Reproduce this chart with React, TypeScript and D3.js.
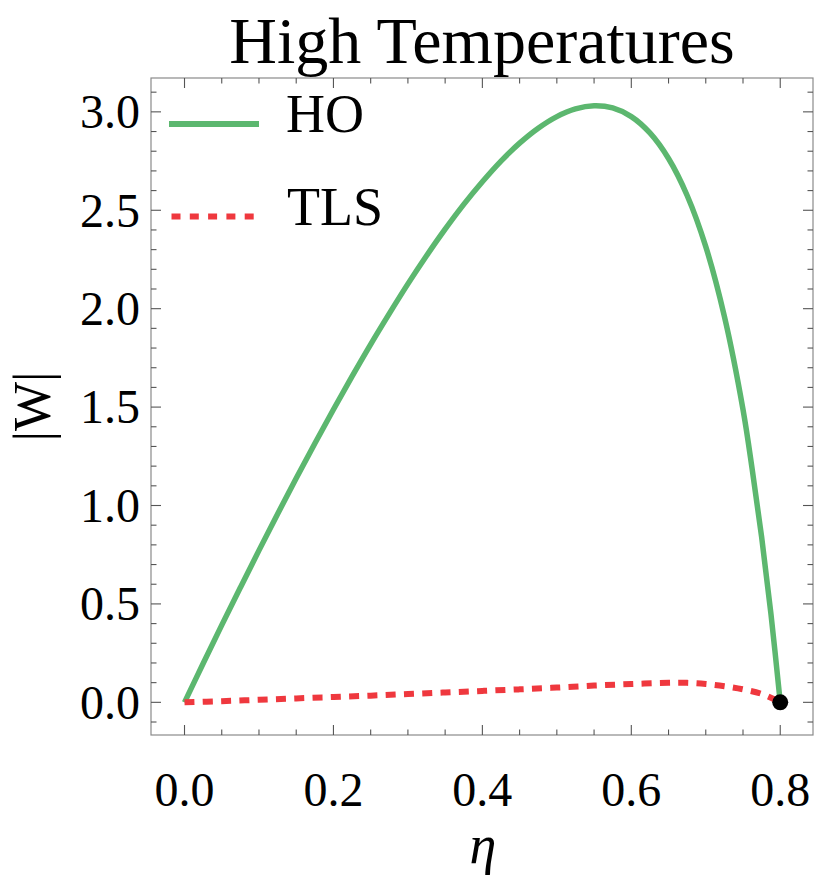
import React, { useEffect, useRef } from 'react';
import * as d3 from 'd3';

// values
const ETA_HO = [0, 0.025, 0.05, 0.075, 0.1, 0.125, 0.15, 0.175, 0.2, 0.225, 0.25, 0.275, 0.3, 0.325, 0.35, 0.375, 0.4, 0.425, 0.45, 0.475, 0.5, 0.525, 0.55, 0.575, 0.6, 0.625, 0.65, 0.675, 0.7, 0.725, 0.75, 0.7625, 0.775, 0.7875, 0.8];
const W_HO = [0, 0.197, 0.392, 0.583, 0.772, 0.957, 1.138, 1.315, 1.488, 1.656, 1.819, 1.975, 2.126, 2.269, 2.404, 2.53, 2.645, 2.75, 2.841, 2.917, 2.976, 3.015, 3.031, 3.02, 2.976, 2.893, 2.763, 2.575, 2.315, 1.961, 1.488, 1.18, 0.84, 0.45, 0];

const ETA_TLS = [0, 0.05, 0.1, 0.15, 0.2, 0.25, 0.3, 0.35, 0.4, 0.45, 0.5, 0.55, 0.6, 0.65, 0.675, 0.7, 0.725, 0.75, 0.775, 0.8];
const W_TLS = [0, 0.006, 0.013, 0.02, 0.027, 0.034, 0.042, 0.05, 0.058, 0.066, 0.075, 0.085, 0.093, 0.099, 0.099, 0.093, 0.082, 0.066, 0.043, 0];

const X_TICKS = [0, 0.2, 0.4, 0.6, 0.8];
const Y_TICKS = [0, 0.5, 1, 1.5, 2, 2.5, 3];
const END_POINT = [0.8, 0];

const WIDTH = 817;
const HEIGHT = 880;
const FRAME = { left: 151, right: 813, top: 78, bottom: 735 };
const GREEN = '#5cb76f';
const RED = '#ef383e';
const FONT = '"Liberation Serif", "Times New Roman", serif';

const App = () => {
  const ref = useRef<SVGSVGElement>(null);

  useEffect(() => {
    const svg = d3.select(ref.current);
    svg.selectAll('*').remove();

    const x = d3.scaleLinear().domain([-0.045, 0.844]).range([FRAME.left, FRAME.right]);
    const y = d3.scaleLinear().domain([-0.166, 3.172]).range([FRAME.bottom, FRAME.top]);

    // frame
    svg.append('rect')
      .attr('x', FRAME.left).attr('y', FRAME.top)
      .attr('width', FRAME.right - FRAME.left).attr('height', FRAME.bottom - FRAME.top)
      .attr('fill', 'none').attr('stroke', '#8a8a8a').attr('stroke-width', 1.2);

    const ticks = svg.append('g').attr('stroke', '#555').attr('stroke-width', 1.1);
    const xMinor = d3.range(0, 0.85, 0.05).map(v => +v.toFixed(2));
    const yMinor = d3.range(-0.1, 3.15, 0.1).map(v => +v.toFixed(1));
    const isMajorX = (v: number) => X_TICKS.some(t => Math.abs(t - v) < 1e-6);
    const isMajorY = (v: number) => Y_TICKS.some(t => Math.abs(t - v) < 1e-6);

    xMinor.forEach(v => {
      const len = isMajorX(v) ? 10 : 5.5;
      ticks.append('line').attr('x1', x(v)).attr('x2', x(v)).attr('y1', FRAME.bottom).attr('y2', FRAME.bottom - len);
      ticks.append('line').attr('x1', x(v)).attr('x2', x(v)).attr('y1', FRAME.top).attr('y2', FRAME.top + len);
    });
    yMinor.forEach(v => {
      const len = isMajorY(v) ? 10 : 5.5;
      ticks.append('line').attr('y1', y(v)).attr('y2', y(v)).attr('x1', FRAME.left).attr('x2', FRAME.left + len);
      ticks.append('line').attr('y1', y(v)).attr('y2', y(v)).attr('x1', FRAME.right).attr('x2', FRAME.right - len);
    });

    // tick labels
    svg.append('g').selectAll('text').data(X_TICKS).enter().append('text')
      .attr('x', d => x(d)).attr('y', 806)
      .attr('text-anchor', 'middle')
      .attr('font-family', FONT).attr('font-size', 48)
      .text(d => d.toFixed(1));
    svg.append('g').selectAll('text').data(Y_TICKS).enter().append('text')
      .attr('x', 140).attr('y', d => y(d))
      .attr('dy', '0.34em')
      .attr('text-anchor', 'end')
      .attr('font-family', FONT).attr('font-size', 48)
      .text(d => d.toFixed(1));

    // axis labels and title
    svg.append('text')
      .attr('x', 483).attr('y', 863)
      .attr('text-anchor', 'middle')
      .attr('font-family', FONT).attr('font-style', 'italic').attr('font-size', 54)
      .text('η');
    svg.append('text')
      .attr('transform', `translate(50, ${(FRAME.top + FRAME.bottom) / 2}) rotate(-90)`)
      .attr('text-anchor', 'middle')
      .attr('font-family', FONT).attr('font-size', 52)
      .text('|W|');
    svg.append('text')
      .attr('x', 482).attr('y', 63)
      .attr('text-anchor', 'middle')
      .attr('font-family', FONT).attr('font-size', 66)
      .text('High Temperatures');

    // curves
    const line = d3.line<[number, number]>()
      .x(d => x(d[0])).y(d => y(d[1]))
      .curve(d3.curveCatmullRom.alpha(0.5));

    const ho: [number, number][] = ETA_HO.map((e, i) => [e, W_HO[i]]);
    const tls: [number, number][] = ETA_TLS.map((e, i) => [e, W_TLS[i]]);

    svg.append('path').attr('d', line(ho))
      .attr('fill', 'none').attr('stroke', GREEN).attr('stroke-width', 5.5)
      .attr('stroke-linejoin', 'round');
    svg.append('path').attr('d', line(tls))
      .attr('fill', 'none').attr('stroke', RED).attr('stroke-width', 6)
      .attr('stroke-dasharray', '10 8.3');

    svg.append('circle')
      .attr('cx', x(END_POINT[0])).attr('cy', y(END_POINT[1]))
      .attr('r', 8).attr('fill', '#000');

    // legend
    svg.append('line').attr('x1', 169).attr('x2', 259).attr('y1', 124).attr('y2', 124)
      .attr('stroke', GREEN).attr('stroke-width', 6);
    svg.append('line').attr('x1', 171.5).attr('x2', 254).attr('y1', 216.5).attr('y2', 216.5)
      .attr('stroke', RED).attr('stroke-width', 6).attr('stroke-dasharray', '9 9.3');
    svg.append('text').attr('x', 286).attr('y', 132)
      .attr('font-family', FONT).attr('font-size', 54).text('HO');
    svg.append('text').attr('x', 287).attr('y', 225)
      .attr('font-family', FONT).attr('font-size', 54).text('TLS');
  }, []);

  return (
    <div style={{ position: 'absolute', left: 0, top: 0 }}>
      <svg ref={ref} width={WIDTH} height={HEIGHT} style={{ display: 'block', background: '#fff' }} />
    </div>
  );
};

export default App;
